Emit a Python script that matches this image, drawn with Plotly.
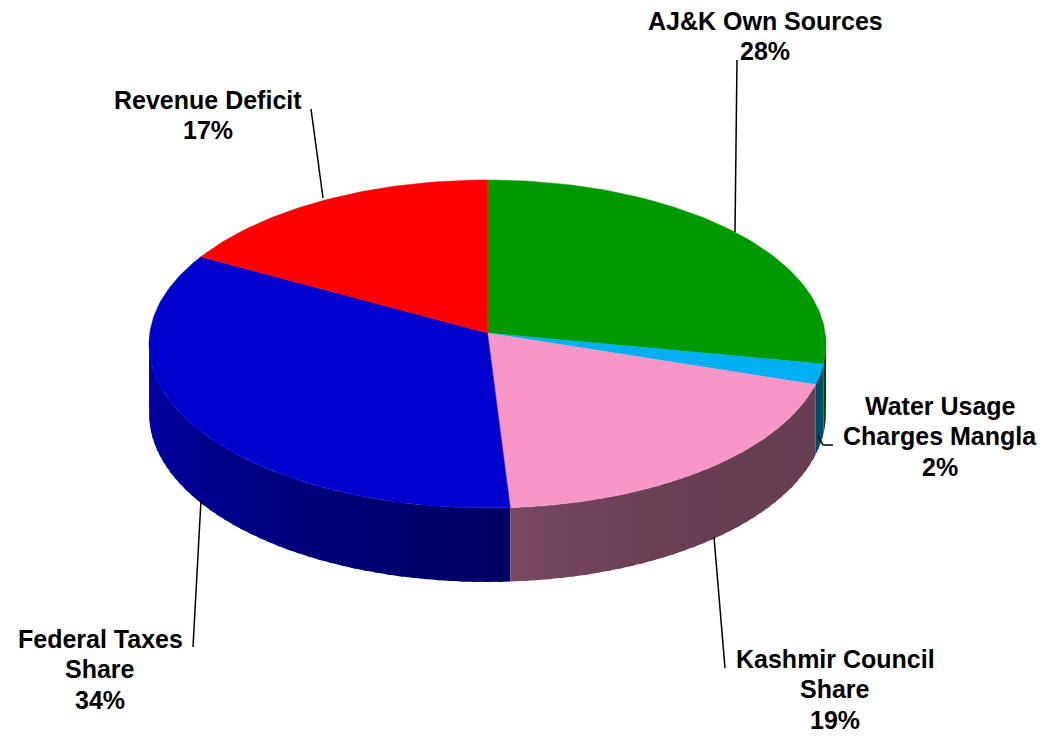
import numpy as np
import plotly.graph_objects as go

# ---- data ----
categories = ["AJ&K Own Sources", "Water Usage Charges Mangla", "Kashmir Council Share",
              "Federal Taxes Share", "Revenue Deficit"]
label_lines = [["AJ&K Own Sources"], ["Water Usage", "Charges Mangla"], ["Kashmir Council", "Share"],
               ["Federal Taxes", "Share"], ["Revenue Deficit"]]
values = [28, 2, 19, 34, 17]

# ---- style / geometry ----
top_colors = [(0, 153, 0), (0, 176, 240), (249, 150, 200), (0, 0, 204), (255, 0, 0)]
W, H = 1052, 744
PAD = 8                    # page body margin, so axis units equal screen pixels
CX, CY = 487.5, 333.0      # apex of the pie on screen
SX, SY = 337.7, 163.3      # projected radii
K = 0.067                  # perspective factor
DEPTH = 69.0               # thickness of the pie
FONT = dict(family="Liberation Sans, Arial, sans-serif", size=25, color="black")
LINE_GAP = 30.5

# label block centres and leader lines (layout positions)
label_pos = [(765, 36), (940, 436), (835, 689), (100, 669), (208, 115)]
leaders = [
    [(737, 60), (735, 232)],
    [(818, 436), (823, 445), (833, 445)],
    [(725, 668), (714, 537)],
    [(193, 647), (201, 500)],
    [(311, 109), (323, 198)],
]


def proj(phi, drop=0.0):
    s = np.sin(phi)
    c = np.cos(phi)
    d = 1 + K * s
    return CX + SX * c / d, CY - SY * s / d + drop / d


def shade(phi):
    return 0.645 + 0.235 * np.cos(phi - np.radians(140))


def rgb(c, f=1.0):
    return "rgb(%d,%d,%d)" % tuple(int(round(v * f)) for v in c)


total = float(sum(values))
fig = go.Figure()

# slice angle ranges (clockwise from 12 o'clock)
ranges = []
a = np.pi / 2
for v in values:
    b = a - v / total * 2 * np.pi
    ranges.append((b, a))
    a = b

# ---- side walls (front half only), shaded strips drawn left to right ----
strips = []
for (lo, hi), col in zip(ranges, top_colors):
    for shift in (0.0, 2 * np.pi, -2 * np.pi):
        s_lo = max(lo + shift, -np.pi)
        s_hi = min(hi + shift, 0.0)
        if s_hi <= s_lo:
            continue
        n = max(1, int(np.ceil(np.degrees(s_hi - s_lo) / 2.0)))
        edges = np.linspace(s_lo, s_hi, n + 1)
        for p0, p1 in zip(edges[:-1], edges[1:]):
            strips.append((p0, p1, col))

# draw from left (phi=-pi) to right (phi=0); each strip extends over the next one
strips.sort(key=lambda t: t[0])
for idx, (p0, p1, col) in enumerate(strips):
    ext = np.radians(0.8) if idx < len(strips) - 1 and strips[idx + 1][2] == col else 0.0
    ph = np.linspace(p0, p1 + ext, 5)
    tx, ty = proj(ph)
    bx, by = proj(ph[::-1], DEPTH)
    xs = np.concatenate([tx, bx, tx[:1]])
    ys = np.concatenate([ty, by, ty[:1]])
    c = rgb(col, shade((p0 + p1) / 2))
    fig.add_trace(go.Scatter(x=xs, y=ys, mode="lines", fill="toself",
                             fillcolor=c, line=dict(color=c, width=0),
                             hoverinfo="skip", showlegend=False))

# ---- top faces ----
for (lo, hi), col, name in zip(ranges, top_colors, categories):
    n = max(3, int(np.degrees(hi - lo)))
    ph = np.linspace(hi, lo, n)
    ax, ay = proj(ph)
    xs = np.concatenate([[CX], ax, [CX]])
    ys = np.concatenate([[CY], ay, [CY]])
    c = rgb(col)
    fig.add_trace(go.Scatter(x=xs, y=ys, mode="lines", fill="toself", fillcolor=c,
                             line=dict(color=c, width=0.5), name=name,
                             hoverinfo="name", showlegend=False))

# ---- labels and leader lines ----
for lines, v, (lx, ly), pts in zip(label_lines, values, label_pos, leaders):
    pct = int(round(v / total * 100))
    all_lines = lines + ["%d%%" % pct]
    n = len(all_lines)
    for i, t in enumerate(all_lines):
        yy = ly + (i - (n - 1) / 2.0) * LINE_GAP
        fig.add_annotation(x=lx, y=yy, xref="x", yref="y", text="<b>%s</b>" % t,
                           showarrow=False, xanchor="center", yanchor="middle",
                           align="center", font=FONT, borderpad=0)
    for (x0, y0), (x1, y1) in zip(pts[:-1], pts[1:]):
        fig.add_shape(type="line", x0=x0, y0=y0, x1=x1, y1=y1, xref="x", yref="y",
                      line=dict(color="black", width=1.5))

fig.update_layout(
    margin=dict(l=0, r=0, t=0, b=0),
    paper_bgcolor="white", plot_bgcolor="white",
    xaxis=dict(range=[PAD, W - PAD], visible=False, fixedrange=True),
    yaxis=dict(range=[H - PAD, PAD], visible=False, fixedrange=True),
    showlegend=False,
)

fig.write_html("out.html")
